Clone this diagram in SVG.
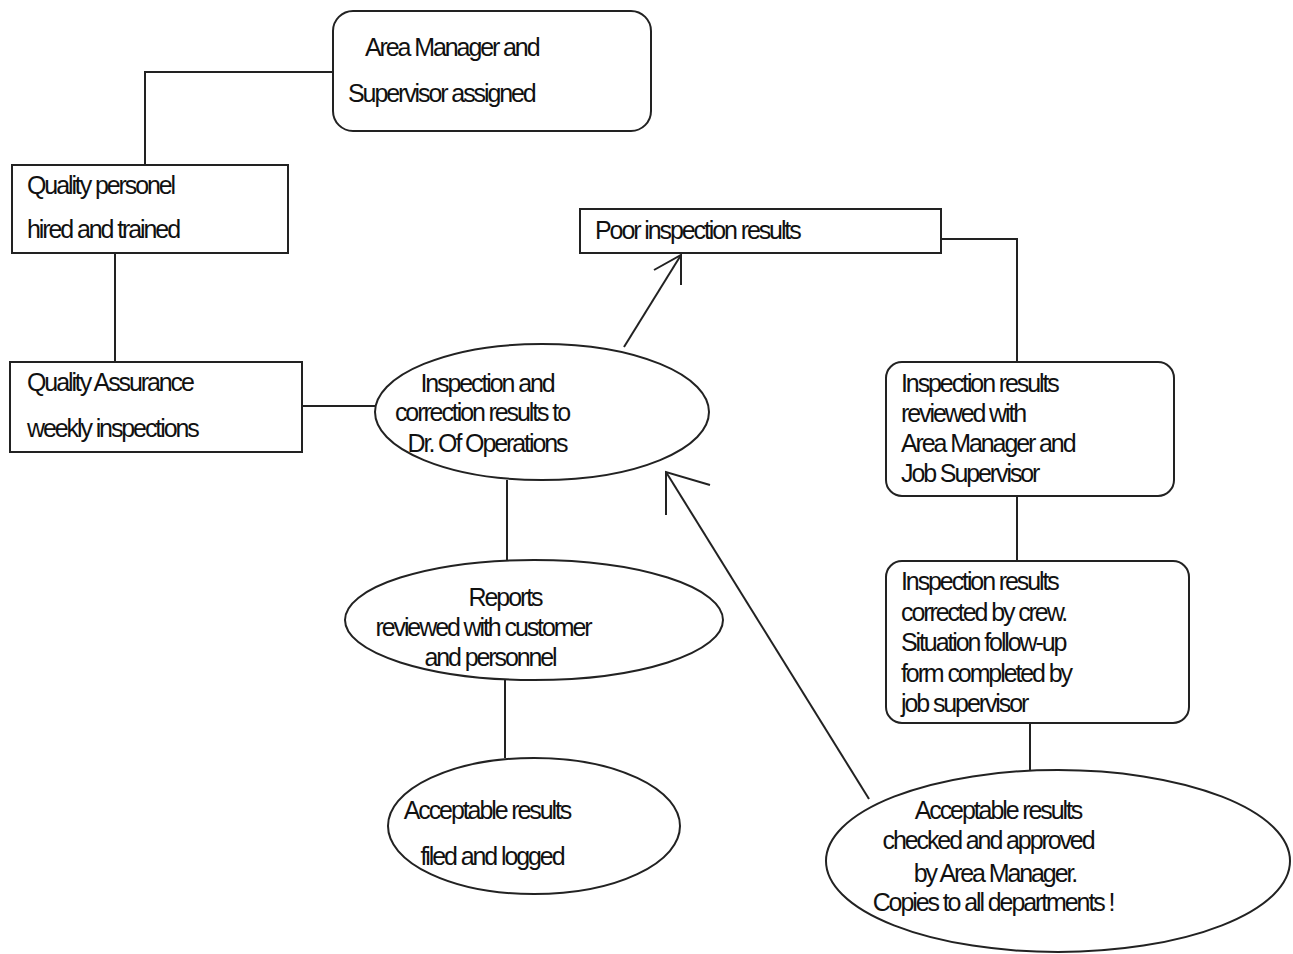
<svg xmlns="http://www.w3.org/2000/svg" width="1293" height="954" viewBox="0 0 1293 954">
<style>
  .shape { fill: #ffffff; stroke: #222222; stroke-width: 2; }
  .conn { fill: none; stroke: #222222; stroke-width: 2; }
  text { font-family: "Liberation Sans", Arial, sans-serif; font-size: 25px; fill: #111111; letter-spacing: -2.1px; }
  .c { text-anchor: middle; }
</style>
<rect width="1293" height="954" fill="#ffffff"/>
<g id="connectors">
  <path class="conn" d="M333,72 H145 V165"/>
  <path class="conn" d="M115,253 V362"/>
  <path class="conn" d="M302,406 H376"/>
  <path class="conn" d="M624,347 L681,255"/>
  <path class="conn" d="M654,270 L681,255 L681,285"/>
  <path class="conn" d="M941,239 H1017 V362"/>
  <path class="conn" d="M1017,496 V561"/>
  <path class="conn" d="M1030,723 V773"/>
  <path class="conn" d="M869,799 L666,472"/>
  <path class="conn" d="M710,485 L666,472 L666,515"/>
  <path class="conn" d="M507,480 V560"/>
  <path class="conn" d="M505,680 V758"/>
</g>
<g id="node-area-manager">
  <rect class="shape" x="333" y="11" width="318" height="120" rx="20"/>
  <text x="365" y="56">Area Manager and</text>
  <text x="348" y="102">Supervisor assigned</text>
</g>
<g id="node-quality-personel">
  <rect class="shape" x="12" y="165" width="276" height="88"/>
  <text x="27" y="194">Quality personel</text>
  <text x="27" y="238">hired and trained</text>
</g>
<g id="node-quality-assurance">
  <rect class="shape" x="10" y="362" width="292" height="90"/>
  <text x="27" y="391">Quality Assurance</text>
  <text x="27" y="437">weekly inspections</text>
</g>
<g id="node-inspection-correction">
  <ellipse class="shape" cx="542" cy="412" rx="167" ry="68"/>
  <text class="c" x="487" y="392">Inspection and</text>
  <text class="c" x="482" y="421">correction results to</text>
  <text class="c" x="487" y="452">Dr. Of Operations</text>
</g>
<g id="node-poor-results">
  <rect class="shape" x="580" y="209" width="361" height="44"/>
  <text x="595" y="239">Poor inspection results</text>
</g>
<g id="node-reviewed">
  <rect class="shape" x="886" y="362" width="288" height="134" rx="16"/>
  <text x="901" y="392">Inspection results</text>
  <text x="901" y="422">reviewed with</text>
  <text x="901" y="452">Area Manager and</text>
  <text x="901" y="482">Job Supervisor</text>
</g>
<g id="node-corrected">
  <rect class="shape" x="886" y="561" width="303" height="162" rx="16"/>
  <text x="901" y="590">Inspection results</text>
  <text x="901" y="621">corrected by crew.</text>
  <text x="901" y="651">Situation follow-up</text>
  <text x="901" y="682">form completed by</text>
  <text x="901" y="712">job supervisor</text>
</g>
<g id="node-approved">
  <ellipse class="shape" cx="1058" cy="861" rx="232" ry="91"/>
  <text class="c" x="998" y="819">Acceptable results</text>
  <text class="c" x="988" y="849">checked and approved</text>
  <text class="c" x="995" y="882">by Area Manager.</text>
  <text class="c" x="993" y="911">Copies to all departments !</text>
</g>
<g id="node-reports">
  <ellipse class="shape" cx="534" cy="620" rx="189" ry="60"/>
  <text class="c" x="505" y="606">Reports</text>
  <text class="c" x="483" y="636">reviewed with customer</text>
  <text class="c" x="490" y="666">and personnel</text>
</g>
<g id="node-filed">
  <ellipse class="shape" cx="534" cy="826" rx="146" ry="68"/>
  <text class="c" x="487" y="819">Acceptable results</text>
  <text class="c" x="492" y="865">filed and logged</text>
</g>
</svg>
